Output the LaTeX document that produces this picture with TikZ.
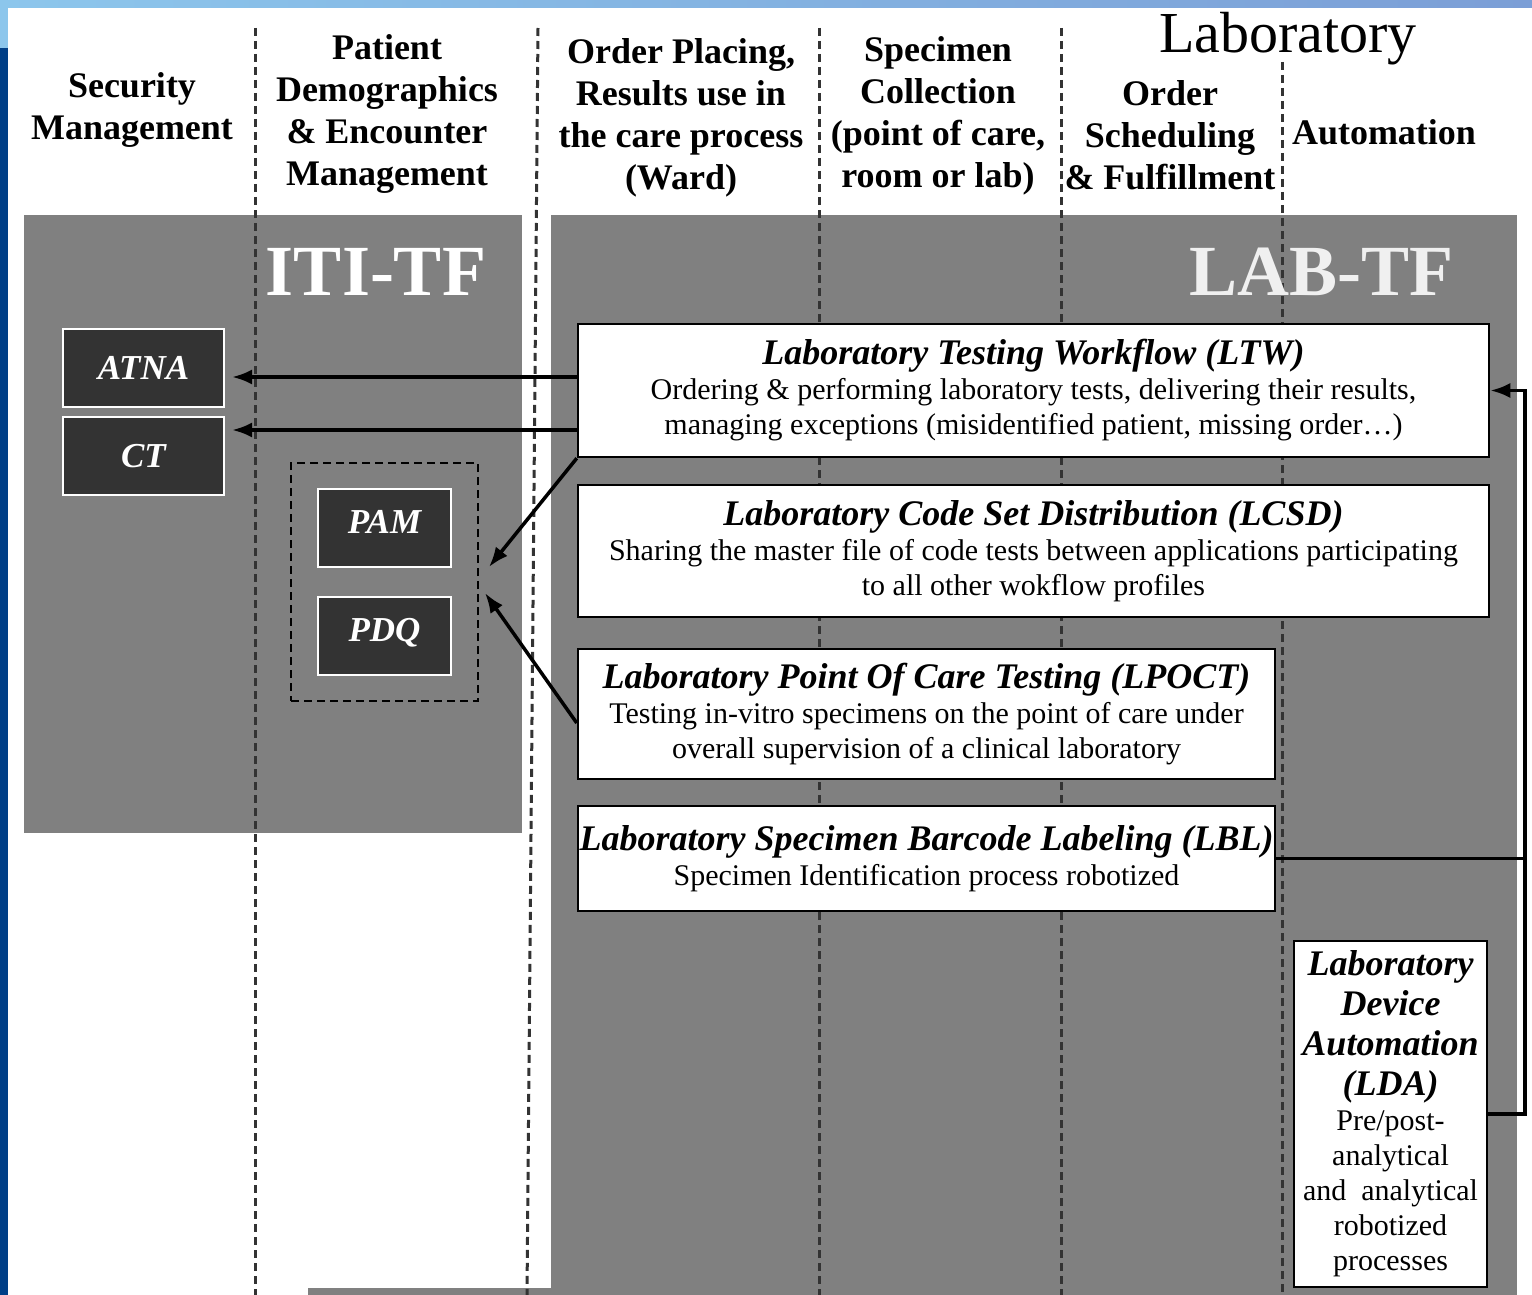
\documentclass[tikz,border=0pt]{standalone}
\usepackage{fontspec}
\setmainfont{Liberation Serif}
\usetikzlibrary{fit,arrows.meta}
\definecolor{panelgray}{HTML}{808080}
\definecolor{boxdark}{HTML}{333333}
\definecolor{bandlight}{HTML}{8CC6EC}
\definecolor{bandright}{HTML}{7B9ED6}
\definecolor{edgeblue}{HTML}{003F87}
\tikzset{
  >={Latex[length=20pt,width=15pt]},
  x=1pt, y=-1pt,
}
\tikzstyle{lane}=[line width=3pt, black!80, dash pattern=on 8pt off 5pt]
\tikzstyle{head}=[font=\fontsize{36}{42}\selectfont\bfseries, align=center]
\tikzstyle{actor}=[draw=white, line width=2pt, fill=boxdark, text=white, minimum width=161pt, minimum height=78pt, font=\fontsize{35}{40}\selectfont\bfseries\itshape]
\tikzstyle{profile}=[draw, line width=2.5pt, fill=white, align=center, inner sep=0pt, font=\fontsize{30}{35}\selectfont]
\tikzstyle{link}=[line width=3.5pt, ->]
\newcommand{\ptitle}[1]{{\fontsize{36}{35}\selectfont\bfseries\itshape #1}}

\begin{document}
\begin{tikzpicture}
\useasboundingbox (0,0) rectangle (1532,1295);
% backdrop
\fill[white] (0,0) rectangle (1532,1295);
\shade[left color=bandlight, right color=bandright] (0,0) rectangle (1532,8);
\fill[bandlight] (0,0) rectangle (8,48);
\fill[edgeblue] (0,48) rectangle (8,1295);
% frameworks
\fill[panelgray] (24,215) rectangle (522,833);
\fill[panelgray] (551,215) rectangle (1517,1295);
\fill[panelgray] (308,1288) rectangle (551,1295);
% lanes
\foreach \lx/\ly in {255/28, 819/28, 1061/28, 1282/62}
  \draw[lane] (\lx,\ly) -- (\lx,1295);
\draw[lane] (538,28) -- (527,1295);

% headings
\node[head] (sec) at (132,110) {Security\\Management};
\node[head] (pat) at (387,114) {Patient\\Demographics\\\& Encounter\\Management};
\node[head] (ward) at (681,118) {Order Placing,\\Results use in\\the care process\\(Ward)};
\node[head] (spec) at (938,116) {Specimen\\Collection\\(point of care,\\room or lab)};
\node[font=\fontsize{58}{60}\selectfont, anchor=base] (lab) at (1288,53) {Laboratory};
\node[head] (sched) at (1170,135) {Order\\Scheduling\\\& Fulfillment};
\node[head] (auto) at (1384,132) {Automation};
\node[font=\fontsize{72}{72}\selectfont\bfseries, text=white, anchor=base] (iti) at (376,295) {ITI-TF};
\node[font=\fontsize{72}{72}\selectfont\bfseries, text=white!94!black, anchor=base] (labtf) at (1321,295) {LAB-TF};

% ITI actors
\node[actor] (atna) at (143.5,368) {ATNA};
\node[actor] (ct) at (143.5,456) {CT};
\node[actor, minimum width=133pt] (pam) at (384.5,528) {\raisebox{12pt}{PAM}};
\node[actor, minimum width=133pt] (pdq) at (384.5,636) {\raisebox{12pt}{PDQ}};
\node[draw, line width=2pt, dash pattern=on 8pt off 5pt, fit=(pam)(pdq), inner xsep=26pt, inner ysep=25pt] (pix) {};

% LAB profiles
\node[profile, minimum width=911pt, minimum height=133pt] (ltw) at (1033.5,390.5)
  {\ptitle{Laboratory Testing Workflow (LTW)}\\Ordering \& performing laboratory tests, delivering their results,\\managing exceptions (misidentified patient, missing order\ldots)};
\node[profile, minimum width=911pt, minimum height=132pt] (lcsd) at (1033.5,551)
  {\ptitle{Laboratory Code Set Distribution (LCSD)}\\Sharing the master file of code tests between applications participating\\to all other wokflow profiles};
\node[profile, minimum width=697pt, minimum height=130pt] (lpoct) at (926.5,714)
  {\ptitle{Laboratory Point Of Care Testing (LPOCT)}\\Testing in-vitro specimens on the point of care under\\overall supervision of a clinical laboratory};
\node[profile, minimum width=697pt, minimum height=105pt] (lbl) at (926.5,858.5)
  {\ptitle{Laboratory Specimen Barcode Labeling (LBL)}\\Specimen Identification process robotized};
\node[profile, minimum width=193pt, minimum height=346pt] (lda) at (1390.5,1114)
  {\ptitle{Laboratory}\\[5pt]\ptitle{Device}\\[5pt]\ptitle{Automation}\\[5pt]\ptitle{(LDA)}\\Pre/post-\\analytical\\and~ analytical\\robotized\\processes};

% links
\coordinate (ltw-hi) at ([yshift=13.5pt]ltw.west);
\coordinate (ltw-lo) at ([yshift=-39.5pt]ltw.west);
\coordinate (bus) at (1525,0);
\draw[link, shorten >=7pt] (ltw-hi) -- (ltw-hi -| atna.east);
\draw[link, shorten >=7pt] (ltw-lo) -- (ltw-lo -| ct.east);
\draw[link] (ltw.south west) -- ([xshift=10pt,yshift=15pt]pix.east);
\draw[link] ([yshift=-9pt]lpoct.west) -- ([xshift=6pt,yshift=-11pt]pix.east);
\draw[link] (lda.east) -| (bus |- ltw.east) -- (ltw.east);
\draw[line width=3.5pt] (lbl.east) -- (lbl.east -| bus);
\end{tikzpicture}
\end{document}
